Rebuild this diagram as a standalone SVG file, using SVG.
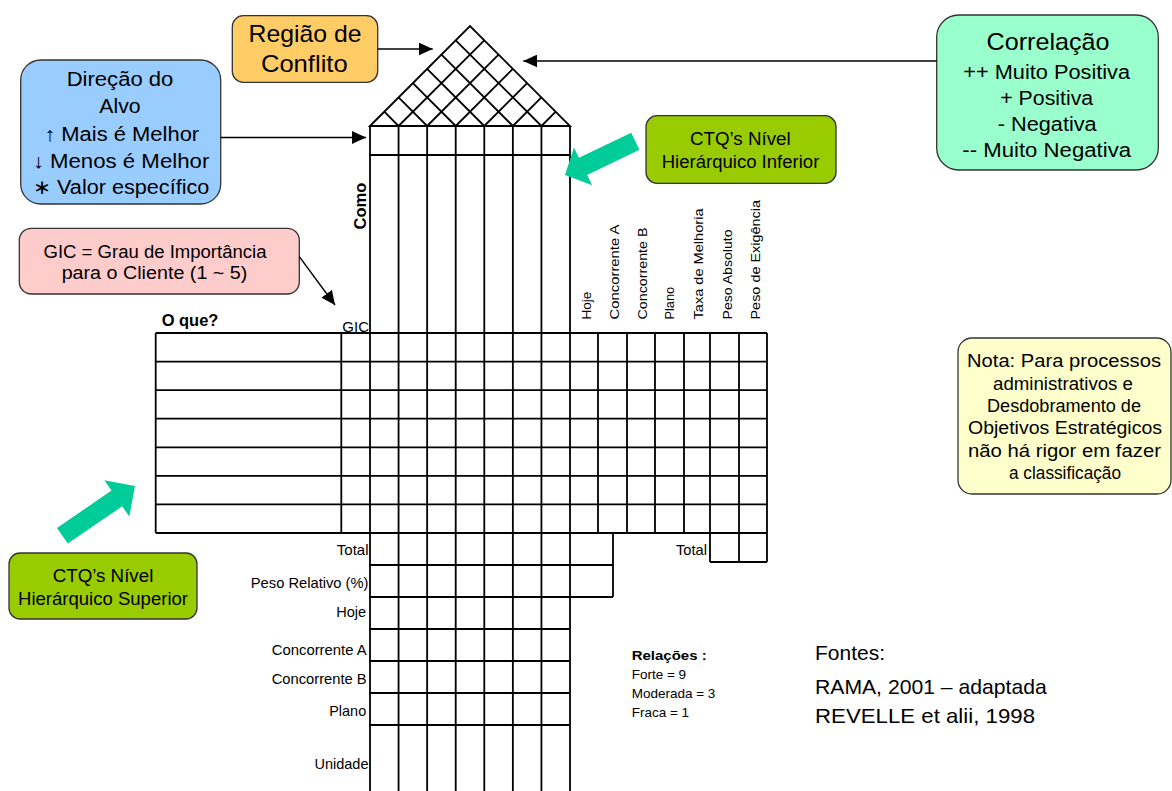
<svg xmlns="http://www.w3.org/2000/svg" width="1172" height="791" viewBox="0 0 1172 791">
<style>
text{font-family:"Liberation Sans",Arial,sans-serif;fill:#000}
.box{stroke:#333;stroke-width:1.3}
.g{stroke:#000;stroke-width:1.8;fill:none}
.lbl{font-size:14.5px;text-anchor:end}
.hdr{font-size:13.5px}
.c{text-anchor:middle}
.leg{font-size:13.5px}
.conn{stroke:#000;stroke-width:1.4;fill:none;marker-end:url(#ah)}
.teal{fill:#00CC99}
</style>
<defs>
<marker id="ah" markerUnits="userSpaceOnUse" markerWidth="15" markerHeight="13" refX="14" refY="6.5" orient="auto">
<path d="M0,0 L14,6.5 L0,13 z" fill="#000"/>
</marker>
</defs>
<rect width="1172" height="791" fill="#fff"/>

<g id="house">
<polygon class="g" points="370,126 470,26 570,126"/>
<path class="g" d="M398.57,126 L484.29,40.29 M427.14,126 L498.57,54.57 M455.71,126 L512.86,68.86 M484.29,126 L527.14,83.14 M512.86,126 L541.43,97.43 M541.43,126 L555.71,111.71
M398.57,126 L384.29,111.71 M427.14,126 L398.57,97.43 M455.71,126 L412.86,83.14 M484.29,126 L427.14,68.86 M512.86,126 L441.43,54.57 M541.43,126 L455.71,40.29"/>
<path class="g" d="M370,126 H570 M370,155 H570
M370,126 V791 M398.57,126 V791 M427.14,126 V791 M455.71,126 V791 M484.29,126 V791 M512.86,126 V791 M541.43,126 V791 M570,126 V791"/>
<path class="g" d="M155.7,333 H767 M155.7,361.57 H767 M155.7,390.14 H767 M155.7,418.71 H767 M155.7,447.29 H767 M155.7,475.86 H767 M155.7,504.43 H767 M155.7,533 H767
M155.7,333 V533 M341.3,333 V533 M598,333 V533 M627,333 V533 M655,333 V533 M684,333 V533 M710,333 V562 M739,333 V562 M767,333 V562 M710,562 H767
M370,565 H613 M370,597 H613 M613,533 V597 M370,629 H570 M370,661 H570 M370,693 H570 M370,725 H570"/>
<text font-weight="bold" font-size="16.5" textLength="47" lengthAdjust="spacingAndGlyphs" transform="translate(366.3,229.5) rotate(-90)">Como</text>
<text font-weight="bold" font-size="16" x="161.7" y="326" textLength="56.7" lengthAdjust="spacingAndGlyphs">O que?</text>
<text font-size="14.5" x="342.3" y="332" textLength="26.7" lengthAdjust="spacingAndGlyphs">GIC</text>
<text class="hdr" textLength="27.7" lengthAdjust="spacingAndGlyphs" transform="translate(590.7,319.5) rotate(-90)">Hoje</text>
<text class="hdr" textLength="95" lengthAdjust="spacingAndGlyphs" transform="translate(619.3,319.5) rotate(-90)">Concorrente A</text>
<text class="hdr" textLength="92" lengthAdjust="spacingAndGlyphs" transform="translate(646.5,319.5) rotate(-90)">Concorrente B</text>
<text class="hdr" textLength="32.7" lengthAdjust="spacingAndGlyphs" transform="translate(674,319.5) rotate(-90)">Plano</text>
<text class="hdr" textLength="111" lengthAdjust="spacingAndGlyphs" transform="translate(703.3,319.5) rotate(-90)">Taxa de Melhoria</text>
<text class="hdr" textLength="90" lengthAdjust="spacingAndGlyphs" transform="translate(732.3,319.5) rotate(-90)">Peso Absoluto</text>
<text class="hdr" textLength="119.5" lengthAdjust="spacingAndGlyphs" transform="translate(760.3,319.5) rotate(-90)">Peso de Exigência</text>
<text class="lbl" x="368.5" y="555" textLength="31.7" lengthAdjust="spacingAndGlyphs">Total</text>
<text class="lbl" x="368.5" y="588.3" textLength="117.7" lengthAdjust="spacingAndGlyphs">Peso Relativo (%)</text>
<text class="lbl" x="366.2" y="616.7" textLength="30" lengthAdjust="spacingAndGlyphs">Hoje</text>
<text class="lbl" x="366.7" y="655" textLength="95" lengthAdjust="spacingAndGlyphs">Concorrente A</text>
<text class="lbl" x="366.7" y="683.5" textLength="95" lengthAdjust="spacingAndGlyphs">Concorrente B</text>
<text class="lbl" x="366.2" y="716" textLength="37" lengthAdjust="spacingAndGlyphs">Plano</text>
<text class="lbl" x="368.5" y="769.3" textLength="54" lengthAdjust="spacingAndGlyphs">Unidade</text>
<text class="lbl" x="707" y="555" textLength="31" lengthAdjust="spacingAndGlyphs">Total</text>
</g>

<g id="regiao">
<rect class="box" x="232.3" y="15.7" width="145.4" height="66.6" rx="11" fill="#FFCC66"/>
<text class="c" font-size="24" x="305" y="42.3" textLength="113" lengthAdjust="spacingAndGlyphs">Região de</text>
<text class="c" font-size="24" x="304.3" y="71.7" textLength="86.7" lengthAdjust="spacingAndGlyphs">Conflito</text>
</g>

<g id="correlacao">
<rect class="box" x="936.7" y="15" width="221.6" height="155" rx="22" fill="#99FFCC"/>
<text class="c" font-size="24" x="1048" y="50" textLength="123" lengthAdjust="spacingAndGlyphs">Correlação</text>
<text class="c" font-size="20" x="1046.7" y="79" textLength="166.7" lengthAdjust="spacingAndGlyphs">++ Muito Positiva</text>
<text class="c" font-size="20" x="1046.7" y="105" textLength="93" lengthAdjust="spacingAndGlyphs">+ Positiva</text>
<text class="c" font-size="20" x="1047.2" y="131" textLength="99" lengthAdjust="spacingAndGlyphs">- Negativa</text>
<text class="c" font-size="20" x="1046.7" y="157" textLength="168.7" lengthAdjust="spacingAndGlyphs">-- Muito Negativa</text>
</g>

<g id="direcao">
<rect class="box" x="20.7" y="60" width="200" height="144" rx="20" fill="#99CCFF"/>
<text class="c" font-size="20" x="120" y="86" textLength="106.7" lengthAdjust="spacingAndGlyphs">Direção do</text>
<text class="c" font-size="20" x="120" y="113.3" textLength="41.3" lengthAdjust="spacingAndGlyphs">Alvo</text>
<text class="c" font-size="20" x="121.7" y="140.7" textLength="155" lengthAdjust="spacingAndGlyphs">↑ Mais é Melhor</text>
<text class="c" font-size="20" x="121" y="168" textLength="176.7" lengthAdjust="spacingAndGlyphs">↓ Menos é Melhor</text>
<text class="c" font-size="20" x="121" y="194" textLength="176.7" lengthAdjust="spacingAndGlyphs">∗ Valor específico</text>
</g>

<g id="ctq-inferior">
<rect class="box" x="646" y="115.7" width="190" height="67.6" rx="11" fill="#99CC00"/>
<text class="c" font-size="17.5" x="740.3" y="145" textLength="100.7" lengthAdjust="spacingAndGlyphs">CTQ’s Nível</text>
<text class="c" font-size="17.5" x="740.5" y="168.3" textLength="157.7" lengthAdjust="spacingAndGlyphs">Hierárquico Inferior</text>
</g>

<g id="gic">
<rect class="box" x="19.3" y="228.3" width="280" height="65.7" rx="12" fill="#FFCCCC"/>
<text class="c" font-size="17.5" x="155" y="258.3" textLength="223" lengthAdjust="spacingAndGlyphs">GIC = Grau de Importância</text>
<text class="c" font-size="17.5" x="154.5" y="279.3" textLength="185.7" lengthAdjust="spacingAndGlyphs">para o Cliente (1 ~ 5)</text>
</g>

<g id="ctq-superior">
<rect class="box" x="9" y="553" width="188" height="66" rx="11" fill="#99CC00"/>
<text class="c" font-size="17.5" x="103" y="582" textLength="100.7" lengthAdjust="spacingAndGlyphs">CTQ’s Nível</text>
<text class="c" font-size="17.5" x="103" y="605" textLength="170" lengthAdjust="spacingAndGlyphs">Hierárquico Superior</text>
</g>

<g id="nota">
<rect class="box" x="958" y="338" width="213" height="156" rx="14" fill="#FFFFCC"/>
<text class="c" font-size="17.5" x="1064" y="367" textLength="194" lengthAdjust="spacingAndGlyphs">Nota: Para processos</text>
<text class="c" font-size="17.5" x="1063" y="389.5" textLength="140" lengthAdjust="spacingAndGlyphs">administrativos e</text>
<text class="c" font-size="17.5" x="1064" y="412" textLength="154" lengthAdjust="spacingAndGlyphs">Desdobramento de</text>
<text class="c" font-size="17.5" x="1065" y="434" textLength="194" lengthAdjust="spacingAndGlyphs">Objetivos Estratégicos</text>
<text class="c" font-size="17.5" x="1064.5" y="456.5" textLength="193" lengthAdjust="spacingAndGlyphs">não há rigor em fazer</text>
<text class="c" font-size="17.5" x="1065" y="479" textLength="112" lengthAdjust="spacingAndGlyphs">a classificação</text>
</g>

<g id="relacoes">
<text font-weight="bold" font-size="13.5" x="631.7" y="660" textLength="75" lengthAdjust="spacingAndGlyphs">Relações :</text>
<text class="leg" x="631.7" y="679">Forte = 9</text>
<text class="leg" x="631.7" y="698">Moderada = 3</text>
<text class="leg" x="631.7" y="717">Fraca = 1</text>
</g>

<g id="fontes">
<text font-size="21" x="815" y="660" textLength="70" lengthAdjust="spacingAndGlyphs">Fontes:</text>
<text font-size="21" x="815" y="693.5" textLength="231.7" lengthAdjust="spacingAndGlyphs">RAMA, 2001 – adaptada</text>
<text font-size="21" x="815" y="722.5" textLength="220" lengthAdjust="spacingAndGlyphs">REVELLE et alii, 1998</text>
</g>

<g id="connectors">
<line class="conn" x1="377.7" y1="49" x2="432.7" y2="49"/>
<line class="conn" x1="936.7" y1="61" x2="523.3" y2="61"/>
<line class="conn" x1="220.7" y1="137.5" x2="366" y2="137.5"/>
<line class="conn" x1="299.3" y1="256.7" x2="335" y2="305"/>
<polygon class="teal" transform="translate(565,175) rotate(-25.6)" points="0,0 20,-21 20,-9.5 78,-9.5 78,9.5 20,9.5 20,21"/>
<polygon class="teal" transform="translate(135,486) rotate(145.6)" points="0,0 22,-22 22,-9.5 88,-9.5 88,9.5 22,9.5 22,22"/>
</g>
</svg>
